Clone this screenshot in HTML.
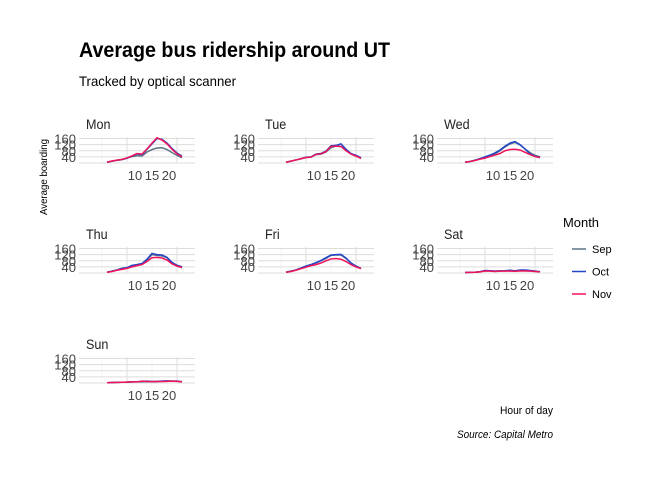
<!DOCTYPE html>
<html><head><meta charset="utf-8"><style>
body{margin:0;background:#fff;font-family:"Liberation Sans",sans-serif}
svg text{font-family:"Liberation Sans",sans-serif}
</style></head><body>
<svg id="c" width="672" height="480" xmlns="http://www.w3.org/2000/svg">
<text x="79" y="57" font-size="21" font-weight="bold" fill="#000" textLength="311" lengthAdjust="spacingAndGlyphs">Average bus ridership around UT</text>
<text x="79" y="86" font-size="14" fill="#000" textLength="157" lengthAdjust="spacingAndGlyphs">Tracked by optical scanner</text>
<text transform="translate(47,177) rotate(-90)" text-anchor="middle" font-size="10.5" fill="#000" textLength="76" lengthAdjust="spacingAndGlyphs">Average boarding</text>
<text x="553" y="414" text-anchor="end" font-size="11" fill="#000" textLength="53" lengthAdjust="spacingAndGlyphs">Hour of day</text>
<text x="553" y="438" text-anchor="end" font-size="11" font-style="italic" fill="#000" textLength="96" lengthAdjust="spacingAndGlyphs">Source: Capital Metro</text>
<g>
<text x="563" y="227" font-size="13" fill="#000" textLength="36" lengthAdjust="spacingAndGlyphs">Month</text>
</g>
</svg>
<script>
const days=["Mon","Tue","Wed","Thu","Fri","Sat","Sun"];
const months=["Sep","Oct","Nov"];
const colors=["#5a7384","#2347c8","#f0135a"];
const hours=[6,7,8,9,10,11,12,13,14,15,16,17,18,19,20,21];
const yTicks=[40,80,120,160];
const xTicks=[10,15,20];
const sepVals=[
[5,12,18,24,32,42,48,46,72,88,98,100,88,68,50,35],
[5,12,20,28,36,38,55,58,72,100,112,108,85,60,48,32],
[5,10,18,28,38,48,60,80,105,125,135,118,92,68,50,40],
[5,12,20,30,34,48,55,60,85,120,115,112,100,65,50,40],
[5,12,20,32,45,55,65,80,95,115,118,118,95,65,45,30],
[3,4,5,8,15,15,12,14,14,16,14,18,18,15,12,8],
[2,3,4,5,6,7,8,9,10,9,10,12,12,12,12,8]];
const octVals=[
[5,12,18,22,32,45,60,55,90,125,160,155,130,95,65,45],
[5,12,20,28,38,40,58,62,78,112,115,125,90,62,50,35],
[5,10,18,28,40,52,66,85,110,130,140,120,92,60,45,35],
[5,12,20,30,35,50,55,62,90,128,120,118,102,70,50,40],
[5,12,20,32,45,55,68,82,100,118,120,122,98,65,45,30],
[3,4,5,8,16,15,12,14,15,18,14,20,20,16,12,8],
[2,3,4,5,6,8,8,10,12,10,10,12,14,12,12,8]];
const novVals=[
[5,13,19,23,33,47,62,58,92,130,165,150,125,90,60,40],
[5,12,20,28,36,38,56,60,75,108,110,108,80,58,45,30],
[5,10,16,25,32,42,52,62,80,88,90,85,70,55,42,35],
[5,10,18,24,30,40,48,55,75,100,102,98,85,60,45,35],
[5,10,18,28,38,48,55,65,80,92,95,90,75,55,40,28],
[3,4,5,7,13,12,10,12,12,13,11,14,13,12,10,7],
[2,3,4,5,6,7,7,12,10,9,10,10,11,12,11,7]];
const series=[sepVals,octVals,novVals];
const NS="http://www.w3.org/2000/svg";
const svg=document.getElementById("c");
function mk(t,a,p){const e=document.createElementNS(NS,t);for(const k in a)e.setAttribute(k,a[k]);(p||svg).appendChild(e);return e;}
const PW=116,PH=26,YMAX=170;
days.forEach((d,i)=>{
  const col=i%3,row=Math.floor(i/3);
  const px=79+col*179,py=137+row*110;
  const g=mk("g",{});
  
  
  const xs=h=>px-2+5*h;
  const ys=v=>py+PH-PH*v/YMAX;
  const t=mk("text",{x:px+7,y:py-8,"font-size":14,fill:"#222",transform:`translate(${px+7},0) scale(0.9,1) translate(${-(px+7)},0)`},g);t.textContent=d;
  
  
  [5,15].forEach(h=>mk("line",{x1:xs(h),x2:xs(h),y1:py,y2:py+PH,stroke:"#eee","stroke-width":0.6},g));
  [10,20].forEach(h=>mk("line",{x1:xs(h),x2:xs(h),y1:py,y2:py+PH,stroke:"#ddd","stroke-width":1},g));
  [0].concat(yTicks).forEach(v=>mk("line",{x1:px,x2:px+PW,y1:ys(v),y2:ys(v),stroke:"#ddd","stroke-width":1},g));
  yTicks.forEach(v=>{const l=mk("text",{x:px-3,y:ys(v)+5,"text-anchor":"end","font-size":13,fill:"#444"},g);l.textContent=v;
    
    });
  xTicks.forEach(v=>{const l=mk("text",{x:xs(v)+8+(v-10)*-1.6,y:py+PH+17,"text-anchor":"middle","font-size":13,fill:"#444"},g);l.textContent=v;
    
    });
  series.forEach((s,m)=>{
    const pts=hours.map((h,k)=>xs(h)+","+ys(s[i][k])).join(" ");
    const pl=mk("polyline",{points:pts,fill:"none",stroke:colors[m],"stroke-width":1.5},g);
    
    
  });
});
months.forEach((m,k)=>{
  const y=249+k*22.5;
  const ln=mk("line",{x1:572,x2:586,y1:y,y2:y,stroke:colors[k],"stroke-width":1.5});
  
  
  const t=mk("text",{x:592,y:y+4,"font-size":11,fill:"#000"});t.textContent=m;
  
  
});
</script>
</body></html>
